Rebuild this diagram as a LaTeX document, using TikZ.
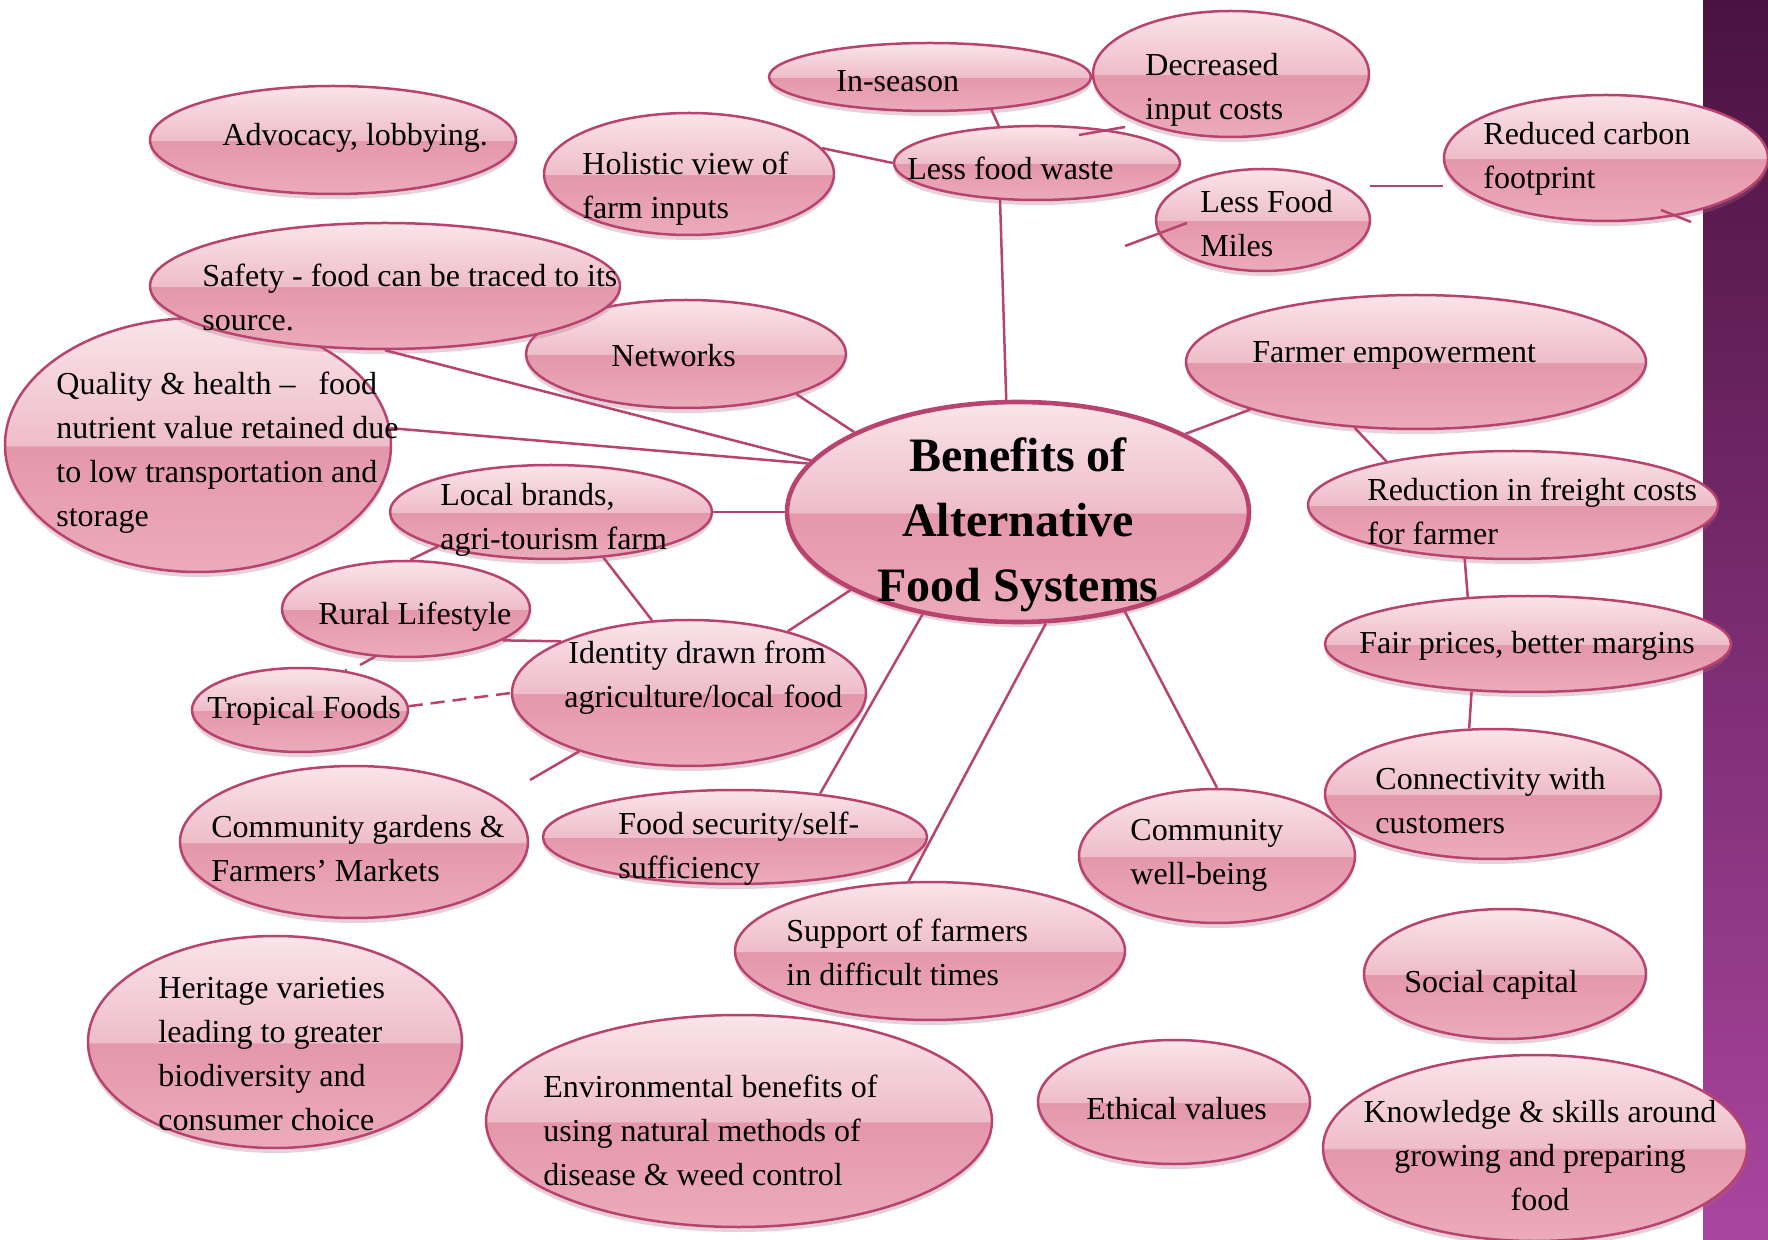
\documentclass[tikz,border=0pt]{standalone}
\usepackage{fontspec}
\setmainfont{Liberation Serif}
\usetikzlibrary{shapes.geometric,shadows}
\definecolor{edgec}{HTML}{B8436F}
\definecolor{gA}{HTML}{FAE4EA}
\definecolor{gB}{HTML}{EEBDCA}
\definecolor{gC}{HTML}{E497AB}
\definecolor{gD}{HTML}{ECABBA}
\definecolor{barTop}{HTML}{4A1240}
\definecolor{barBot}{HTML}{A9459F}
\definecolor{shadowc}{HTML}{B0657F}
\pgfdeclareverticalshading{gloss}{100bp}{color(0bp)=(gD); color(25bp)=(gD); color(49.6bp)=(gC); color(50bp)=(gB); color(75bp)=(gA); color(100bp)=(gA)}
\tikzset{
  bubble/.style={ellipse, draw=edgec, line width=1.25pt, shade, shading=gloss, inner sep=0pt,
    drop shadow={shadow xshift=0pt, shadow yshift=-2.5pt, opacity=.3, fill=shadowc}},
  hub/.style={bubble, line width=2.3pt},
  link/.style={draw=edgec, line width=1.25pt},
  txt/.style={inner sep=0pt, align=left, yshift=-1.8pt, font=\fontsize{16}{22}\selectfont},
}
\newcommand\bub[5]{\node[bubble, minimum width=#4pt, minimum height=#5pt] (#1) at (#2,#3) {};}
\begin{document}
\begin{tikzpicture}[x=0.5pt,y=-0.5pt]
\useasboundingbox (0,0) rectangle (1768,1240);
\fill[white] (0,0) rectangle (1768,1240);
\shade[top color=barTop, bottom color=barBot] (1703,0) rectangle (1768,1240);
% ellipses
\bub{quality}{198}{445}{193}{127}
\bub{networks}{686}{354}{160}{54}
\bub{safety}{385}{286}{235}{63}
\bub{adv}{333}{140}{183}{54}
\bub{inseason}{930}{77}{161}{34}
\bub{decr}{1231}{74}{138}{63}
\bub{holistic}{689}{174}{145}{61}
\bub{waste}{1037}{163}{143}{37}
\bub{miles}{1263}{220}{107}{51}
\bub{carbon}{1606}{158}{162}{63}
\bub{farmer}{1416}{362}{230}{67}
\node[hub, minimum width=231pt, minimum height=110pt] (central) at (1018,512) {};
\bub{local}{551}{512}{161}{47}
\bub{reduction}{1513}{505}{205}{54}
\bub{rural}{406}{609}{124}{48}
\bub{identity}{689}{693}{177}{73}
\bub{fair}{1528}{644}{203}{48}
\bub{tropical}{300}{710}{108}{42}
\bub{connect}{1493}{794}{168}{65}
\bub{gardens}{354}{842}{174}{76}
\bub{security}{735}{837}{192}{47}
\bub{wellbeing}{1217}{856}{138}{67}
\bub{support}{930}{951}{195}{69}
\bub{social}{1505}{974}{141}{65}
\bub{heritage}{275}{1042}{187}{106}
\bub{environ}{739}{1121}{253}{106}
\bub{ethical}{1174}{1102}{136}{62}
\bub{knowledge}{1535}{1148}{212}{93}
% free ends of stubs
\coordinate (b1) at (1079,135);
\coordinate (b2) at (1125,127);
\coordinate (e1) at (1125,246);
\coordinate (e2) at (1187,223);
\coordinate (f1) at (1370,186);
\coordinate (f2) at (1443,186);
\coordinate (g1) at (1661,210);
\coordinate (g2) at (1691,222);
\coordinate (r2) at (360,665);
\coordinate (r3) at (346,670);
\coordinate (t2) at (530,780);
% connectors
\draw[link] (inseason.-28) -- (waste.136);
\draw[link] (b1) -- (b2);
\draw[link] (holistic.11) -- (waste.180);
\draw[link] (waste.225) -- (central.96);
\draw[link] (e1) -- (e2);
\draw[link] (f1) -- (f2);
\draw[link] (g1) -- (g2);
\draw[link] (safety.-90) -- (central.166);
\draw[link] (quality.5) -- (central.167);
\draw[link] (networks.-20) -- (central.154);
\draw[link] (farmer.196) -- (central.25);
\draw[link] (farmer.227) -- (reduction.161);
\draw[link] (local.east) -- (central.west);
\draw[link] (rural.85) -- (local.197);
\draw[link] (local.-41) -- (identity.117);
\draw[link] (identity.32) -- (central.205);
\draw[link] (rural.-18) -- (identity.158);
\draw[link] (rural.237) -- (r2);
\fill[edgec] (r3) circle (1.3);
\draw[link, dash pattern=on 7pt off 4pt] (tropical.2) -- (identity.west);
\draw[link] (identity.208) -- (t2);
\draw[link] (security.27) -- (central.227);
\draw[link] (support.107) -- (central.-76);
\draw[link] (wellbeing.north) -- (central.-43);
\draw[link] (reduction.228) -- (fair.142);
\draw[link] (fair.220) -- (connect.110);
% texts
\node[txt, anchor=west] (t-inseason) at (836,78) {In-season};
\node[txt, anchor=west] (t-decr) at (1145,86) {Decreased\\input costs};
\node[txt, anchor=west] (t-adv) at (222,134) {Advocacy, lobbying.};
\node[txt, anchor=west] (t-holistic) at (582,185) {Holistic view of\\farm inputs};
\node[txt, anchor=west] (t-waste) at (907,165) {Less food waste};
\node[txt, anchor=west] (t-carbon) at (1483,155) {Reduced carbon\\footprint};
\node[txt, anchor=west] (t-miles) at (1200,220) {Less Food\\Miles};
\node[txt, anchor=west] (t-safety) at (202,294) {Safety - food can be traced to its\\source.};
\node[txt, anchor=west] (t-networks) at (611,352) {Networks};
\node[txt, anchor=west] (t-quality) at (56,449) {Quality \& health –\hspace{0.72em}food\\nutrient value retained due\\to low transportation and\\storage};
\node[txt, anchor=west] (t-farmer) at (1252,352) {Farmer empowerment};
\node[inner sep=0pt, align=center, yshift=-2.2pt, font=\fontsize{24}{32.5}\selectfont\bfseries] (t-central) at (1018,520) {Benefits of\\Alternative\\Food Systems};
\node[txt, anchor=west] (t-local) at (440,516) {Local brands,\\agri-tourism farm};
\node[txt, anchor=west] (t-reduction) at (1367,508) {Reduction in freight costs\\for farmer};
\node[txt, anchor=west] (t-rural) at (318,613) {Rural Lifestyle};
\node[txt, anchor=west] (t-identity) at (564,674) {\hspace{2pt}Identity drawn from\\agriculture/local\hspace{0.3em}food};
\node[txt, anchor=west] (t-fair) at (1359,642) {Fair prices, better margins};
\node[txt, anchor=west] (t-tropical) at (207,707) {Tropical Foods};
\node[txt, anchor=west] (t-connect) at (1375,797) {Connectivity with\\customers};
\node[txt, anchor=west] (t-gardens) at (211,845) {Community gardens \&\\Farmers’ Markets};
\node[txt, anchor=west] (t-security) at (618,845) {Food security/self-\\sufficiency};
\node[txt, anchor=west] (t-wellbeing) at (1130,852) {Community\\well-being};
\node[txt, anchor=west] (t-support) at (786,949) {Support of farmers\\in difficult times};
\node[txt, anchor=west] (t-social) at (1404,981) {Social capital};
\node[txt, anchor=west] (t-heritage) at (158,1050) {Heritage varieties\\leading to greater\\biodiversity and\\consumer choice};
\node[txt, anchor=west] (t-environ) at (543,1127) {Environmental benefits of\\using natural methods of\\disease \& weed control};
\node[txt, anchor=west] (t-ethical) at (1086,1105) {Ethical values};
\node[txt, align=center] (t-knowledge) at (1540,1152) {Knowledge \& skills around\\growing and preparing\\food};
\end{tikzpicture}
\end{document}
